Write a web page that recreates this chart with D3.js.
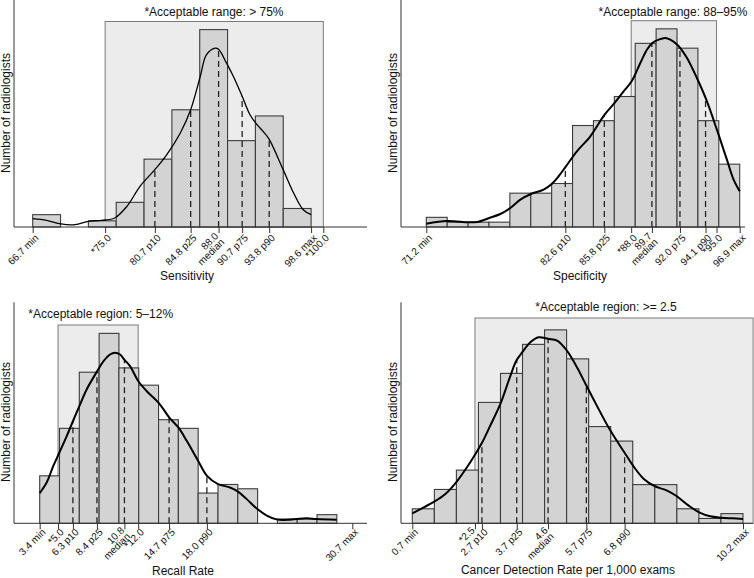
<!DOCTYPE html>
<html><head><meta charset="utf-8">
<script src="https://cdn.jsdelivr.net/npm/d3@7"></script>
<style>
body{margin:0;background:#fff}
text{font-family:"Liberation Sans",Arial,Helvetica,sans-serif;fill:#111}
</style>
</head><body>
<svg id="c" width="754" height="578"></svg>
<script>
// ---------- Sensitivity ----------
const sensBinStart = 66.7, sensBinWidth = 3.19;
const sensCounts = [2,0,1,4,11,19,32,14,18,3];
const sensCurveX = [66.7,68.3,69.94,71.55,73.1,74.6,76.1,77.5,79.0,80.7,82.05,83.6,84.8,85.9,86.6,87.6,88.0,88.9,89.7,90.7,91.6,92.4,93.1,93.8,95.4,96.6,97.7,98.6];
const sensCurveY = [1.35,1.08,0.49,0.38,0.92,1.08,1.46,3.35,6.6,9.3,11.7,15.2,19.0,24.4,27.9,29.0,28.8,26.6,24.4,21.2,18.2,16.6,15.5,14.2,9.3,5.5,2.8,2.0];
const sensTicks = [66.7,75.0,80.7,84.8,88.0,90.7,93.8,98.6,100.0];
const sensTickLabels = ["66.7 min","*75.0","80.7 p10","84.8 p25","88.0\nmedian","90.7 p75","93.8 p90","98.6 max","*100.0"];
const sensPercentiles = [80.7,84.8,88.0,90.7,93.8];
const sensAccept = [75.0,100.0];
const sensNote = "*Acceptable range: > 75%";
const sensTitle = "Sensitivity";

// ---------- Specificity ----------
const specBinStart = 71.2, specBinWidth = 1.7133;
const specCounts = [2,1,1,1,7,7,9,21,22,27,38,41,37,22,13];
const specCurveX = [71.2,72.92,74.64,75.35,76.37,77.27,78.09,78.91,79.78,80.82,81.48,82.05,82.65,83.55,84.65,85.82,86.64,87.38,88.04,88.75,89.29,89.73,90.25,90.80,91.21,91.78,92.03,92.58,93.39,94.16,95.03,95.85,96.40,96.9];
const specCurveY = [0.69,1.24,0.97,1.03,1.86,2.69,3.93,5.66,6.83,7.72,8.9,10.5,12.55,15.66,18.76,23.24,25.66,28.07,30.14,33.93,36.69,38.07,38.76,39.1,38.76,37.72,37.03,34.97,30.83,26.34,20.14,13.93,9.79,7.38];
const specTicks = [71.2,82.6,85.8,88.0,89.7,92.0,94.1,95.0,96.9];
const specTickLabels = ["71.2 min","82.6 p10","85.8 p25","*88.0","89.7\nmedian","92.0 p75","94.1 p90","*95.0","96.9 max"];
const specPercentiles = [82.6,85.8,89.7,92.0,94.1];
const specAccept = [88.0,95.0];
const specNote = "*Acceptable range: 88–95%";
const specTitle = "Specificity";

// ---------- Recall rate ----------
const recBinStart = 3.4, recBinWidth = 1.73;
const recCounts = [11,22,35,44,36,32,24,22,7,9,8,0,1,1,2];
const recCurveX = [3.4,4.01,4.59,5.12,5.76,6.31,6.92,7.50,8.41,8.96,9.54,9.98,10.42,10.79,11.29,12.02,12.75,13.79,14.72,15.51,16.24,17.23,18.01,18.97,20.02,20.69,21.48,22.41,23.23,24.16,25.26,25.87,26.72,27.59,29.34];
const recCurveY = [7.0,9.46,13.3,16.4,20.2,23.7,27.5,31.0,35.2,37.5,39.1,39.5,39.1,37.9,36.4,32.9,30.6,27.9,24.5,22.2,19.1,14.5,11.0,9.1,8.3,7.4,5.6,3.3,1.8,0.85,0.85,1.0,1.15,1.0,0.85];
const recTicks = [3.4,5.0,6.3,8.4,10.8,12.0,14.7,18.0,30.7];
const recTickLabels = ["3.4 min","*5.0","6.3 p10","8.4 p25","10.8\nmedian","*12.0","14.7 p75","18.0 p90","30.7 max"];
const recPercentiles = [6.3,8.4,10.8,14.7,18.0];
const recAccept = [5.0,12.0];
const recNote = "*Acceptable region: 5–12%";
const recTitle = "Recall Rate";

// ---------- Cancer detection rate ----------
const cdrBinStart = 0.7, cdrBinWidth = 0.6333;
const cdrCounts = [3,7,11,25,31,37,40,34,20,17,8,8,3,1,2];
const cdrCurveX = [0.70,1.03,1.33,1.65,1.96,2.27,2.60,2.71,2.94,3.23,3.52,3.69,3.86,4.09,4.33,4.60,4.86,5.14,5.43,5.70,6.00,6.39,6.79,7.04,7.35,7.67,8.02,8.30,8.64,8.94,9.26,9.57,9.88,10.2];
const cdrCurveY = [2.07,3.31,4.48,6.07,8.48,11.59,15.38,16.76,20.21,24.69,30.55,33.66,35.38,37.45,38.48,38.14,37.79,35.72,32.28,28.48,24.34,19.17,14.69,11.93,9.17,7.66,6.76,5.59,3.66,2.28,1.45,1.17,1.03,0.90];
const cdrTicks = [0.7,2.5,2.7,3.7,4.6,5.7,6.8,10.2];
const cdrTickLabels = ["0.7 min","*2.5\n","2.7 p10","3.7 p25","4.6\nmedian","5.7 p75","6.8 p90","10.2 max"];
const cdrPercentiles = [2.7,3.7,4.6,5.7,6.8];
const cdrAccept = [2.5,10.49];
const cdrNote = "*Acceptable region: >= 2.5";
const cdrTitle = "Cancer Detection Rate per 1,000 exams";

const svg = d3.select("#c");

const panels = [
  {binStart:sensBinStart,binWidth:sensBinWidth,counts:sensCounts,cx:sensCurveX,cy:sensCurveY,ticks:sensTicks,labels:sensTickLabels,pct:sensPercentiles,accept:sensAccept,note:sensNote,title:sensTitle,
   xDomain:[66.7,100],xRange:[32.7,323.3],base:227,yTop:0,yMax:36.8,axisL:14,axisR:367,boxTop:21.5,labOff:9,
   noteX:214,noteY:16,noteAnchor:"middle",yLabX:10,yLabY:113,titleX:187,titleY:280,curveW:1.3},
  {binStart:specBinStart,binWidth:specBinWidth,counts:specCounts,cx:specCurveX,cy:specCurveY,ticks:specTicks,labels:specTickLabels,pct:specPercentiles,accept:specAccept,note:specNote,title:specTitle,
   xDomain:[71.2,96.9],xRange:[426.3,739.7],base:227,yTop:0,yMax:46.97,axisL:401,axisR:745,boxTop:20.7,labOff:9,
   noteX:673,noteY:16,noteAnchor:"middle",yLabX:397,yLabY:113,titleX:580,titleY:280,curveW:2},
  {binStart:recBinStart,binWidth:recBinWidth,counts:recCounts,cx:recCurveX,cy:recCurveY,ticks:recTicks,labels:recTickLabels,pct:recPercentiles,accept:recAccept,note:recNote,title:recTitle,
   xDomain:[3.4,30.7],xRange:[39.7,352.3],base:523.3,yTop:302.3,yMax:51.2,axisL:14,axisR:367,boxTop:325,labOff:7,
   noteX:28.3,noteY:317.5,noteAnchor:"start",yLabX:10,yLabY:422,titleX:183,titleY:575,curveW:2},
  {binStart:cdrBinStart,binWidth:cdrBinWidth,counts:cdrCounts,cx:cdrCurveX,cy:cdrCurveY,ticks:cdrTicks,labels:cdrTickLabels,pct:cdrPercentiles,accept:cdrAccept,note:cdrNote,title:cdrTitle,
   xDomain:[0.7,10.2],xRange:[412.3,743],base:523.3,yTop:302.3,yMax:45.7,axisL:401,axisR:753,boxTop:318,labOff:7,
   noteX:606,noteY:311,noteAnchor:"middle",yLabX:397,yLabY:422,titleX:568,titleY:574,curveW:2}
];

panels.forEach(p => {
  const g = svg.append("g");
  const x = d3.scaleLinear().domain(p.xDomain).range(p.xRange);
  const y = d3.scaleLinear().domain([0, p.yMax]).range([p.base, p.yTop]);

  // acceptable region box
  g.append("rect")
    .attr("x", x(p.accept[0])).attr("y", p.boxTop)
    .attr("width", x(p.accept[1]) - x(p.accept[0]))
    .attr("height", p.base - p.boxTop)
    .attr("fill", "#ececec").attr("stroke", "#7a7a7a").attr("stroke-width", 1);

  // histogram bars
  const bins = p.counts.map((c,i) => ({x0: p.binStart + i*p.binWidth, x1: p.binStart + (i+1)*p.binWidth, c}));
  g.selectAll("rect.bar").data(bins.filter(b => b.c > 0)).join("rect")
    .attr("class","bar")
    .attr("x", b => x(b.x0)).attr("width", b => x(b.x1) - x(b.x0))
    .attr("y", b => y(b.c)).attr("height", b => p.base - y(b.c))
    .attr("fill", "#d3d3d3").attr("stroke", "#3c3c3c").attr("stroke-width", 1.1);

  // dashed percentile lines up to the density curve
  const interp = d3.scaleLinear().domain(p.cx).range(p.cy);
  g.selectAll("line.pct").data(p.pct).join("line")
    .attr("class","pct")
    .attr("x1", d => x(d)).attr("x2", d => x(d))
    .attr("y1", p.base).attr("y2", d => y(interp(d)))
    .attr("stroke", "#222").attr("stroke-width", 1.3).attr("stroke-dasharray", "6,4");

  // density curve
  const line = d3.line().x((d,i) => x(p.cx[i])).y(d => y(d)).curve(d3.curveCatmullRom.alpha(0.5));
  g.append("path").attr("d", line(p.cy))
    .attr("fill","none").attr("stroke","#000").attr("stroke-width", p.curveW);

  // axes lines
  g.append("line").attr("x1", p.axisL).attr("x2", p.axisR).attr("y1", p.base).attr("y2", p.base)
    .attr("stroke","#333").attr("stroke-width",1);
  g.append("line").attr("x1", p.axisL).attr("x2", p.axisL).attr("y1", p.yTop).attr("y2", p.base)
    .attr("stroke","#333").attr("stroke-width",1);

  // x axis with tick labels
  const ax = d3.axisBottom(x).tickValues(p.ticks).tickFormat((d,i) => p.labels[i]).tickSize(6);
  const axG = g.append("g").attr("transform", `translate(0,${p.base})`).call(ax);
  axG.select(".domain").remove();
  axG.selectAll(".tick line").attr("stroke","#333");
  axG.selectAll(".tick text").each(function(d,i){
    const t = d3.select(this);
    const lab = p.labels[i];
    t.text(null).attr("x",0).attr("y",0).attr("dy",null)
     .attr("text-anchor","end").attr("font-size",10)
     .attr("font-family","Liberation Sans, Arial, sans-serif").attr("fill","#111")
     .attr("transform",`translate(3.5,${p.labOff}) rotate(-45)`);
    const parts = lab.split("\n");
    if (parts.length === 1) {
      t.append("tspan").attr("x",0).attr("y",3.5).text(parts[0]);
    } else {
      t.append("tspan").attr("x",-3).attr("y",-2).text(parts[0]);
      if (parts[1]) t.append("tspan").attr("x",-3).attr("y",6.5).text(parts[1]);
    }
  });

  // note
  g.append("text").attr("x", p.noteX).attr("y", p.noteY).attr("text-anchor", p.noteAnchor)
    .attr("font-size", 12).text(p.note);
  // x title
  g.append("text").attr("x", p.titleX).attr("y", p.titleY).attr("text-anchor","middle")
    .attr("font-size", 12).text(p.title);
  // y title
  g.append("text").attr("transform", `translate(${p.yLabX},${p.yLabY}) rotate(-90)`)
    .attr("text-anchor","middle").attr("font-size", 12).text("Number of radiologists");
});
</script>
</body></html>
